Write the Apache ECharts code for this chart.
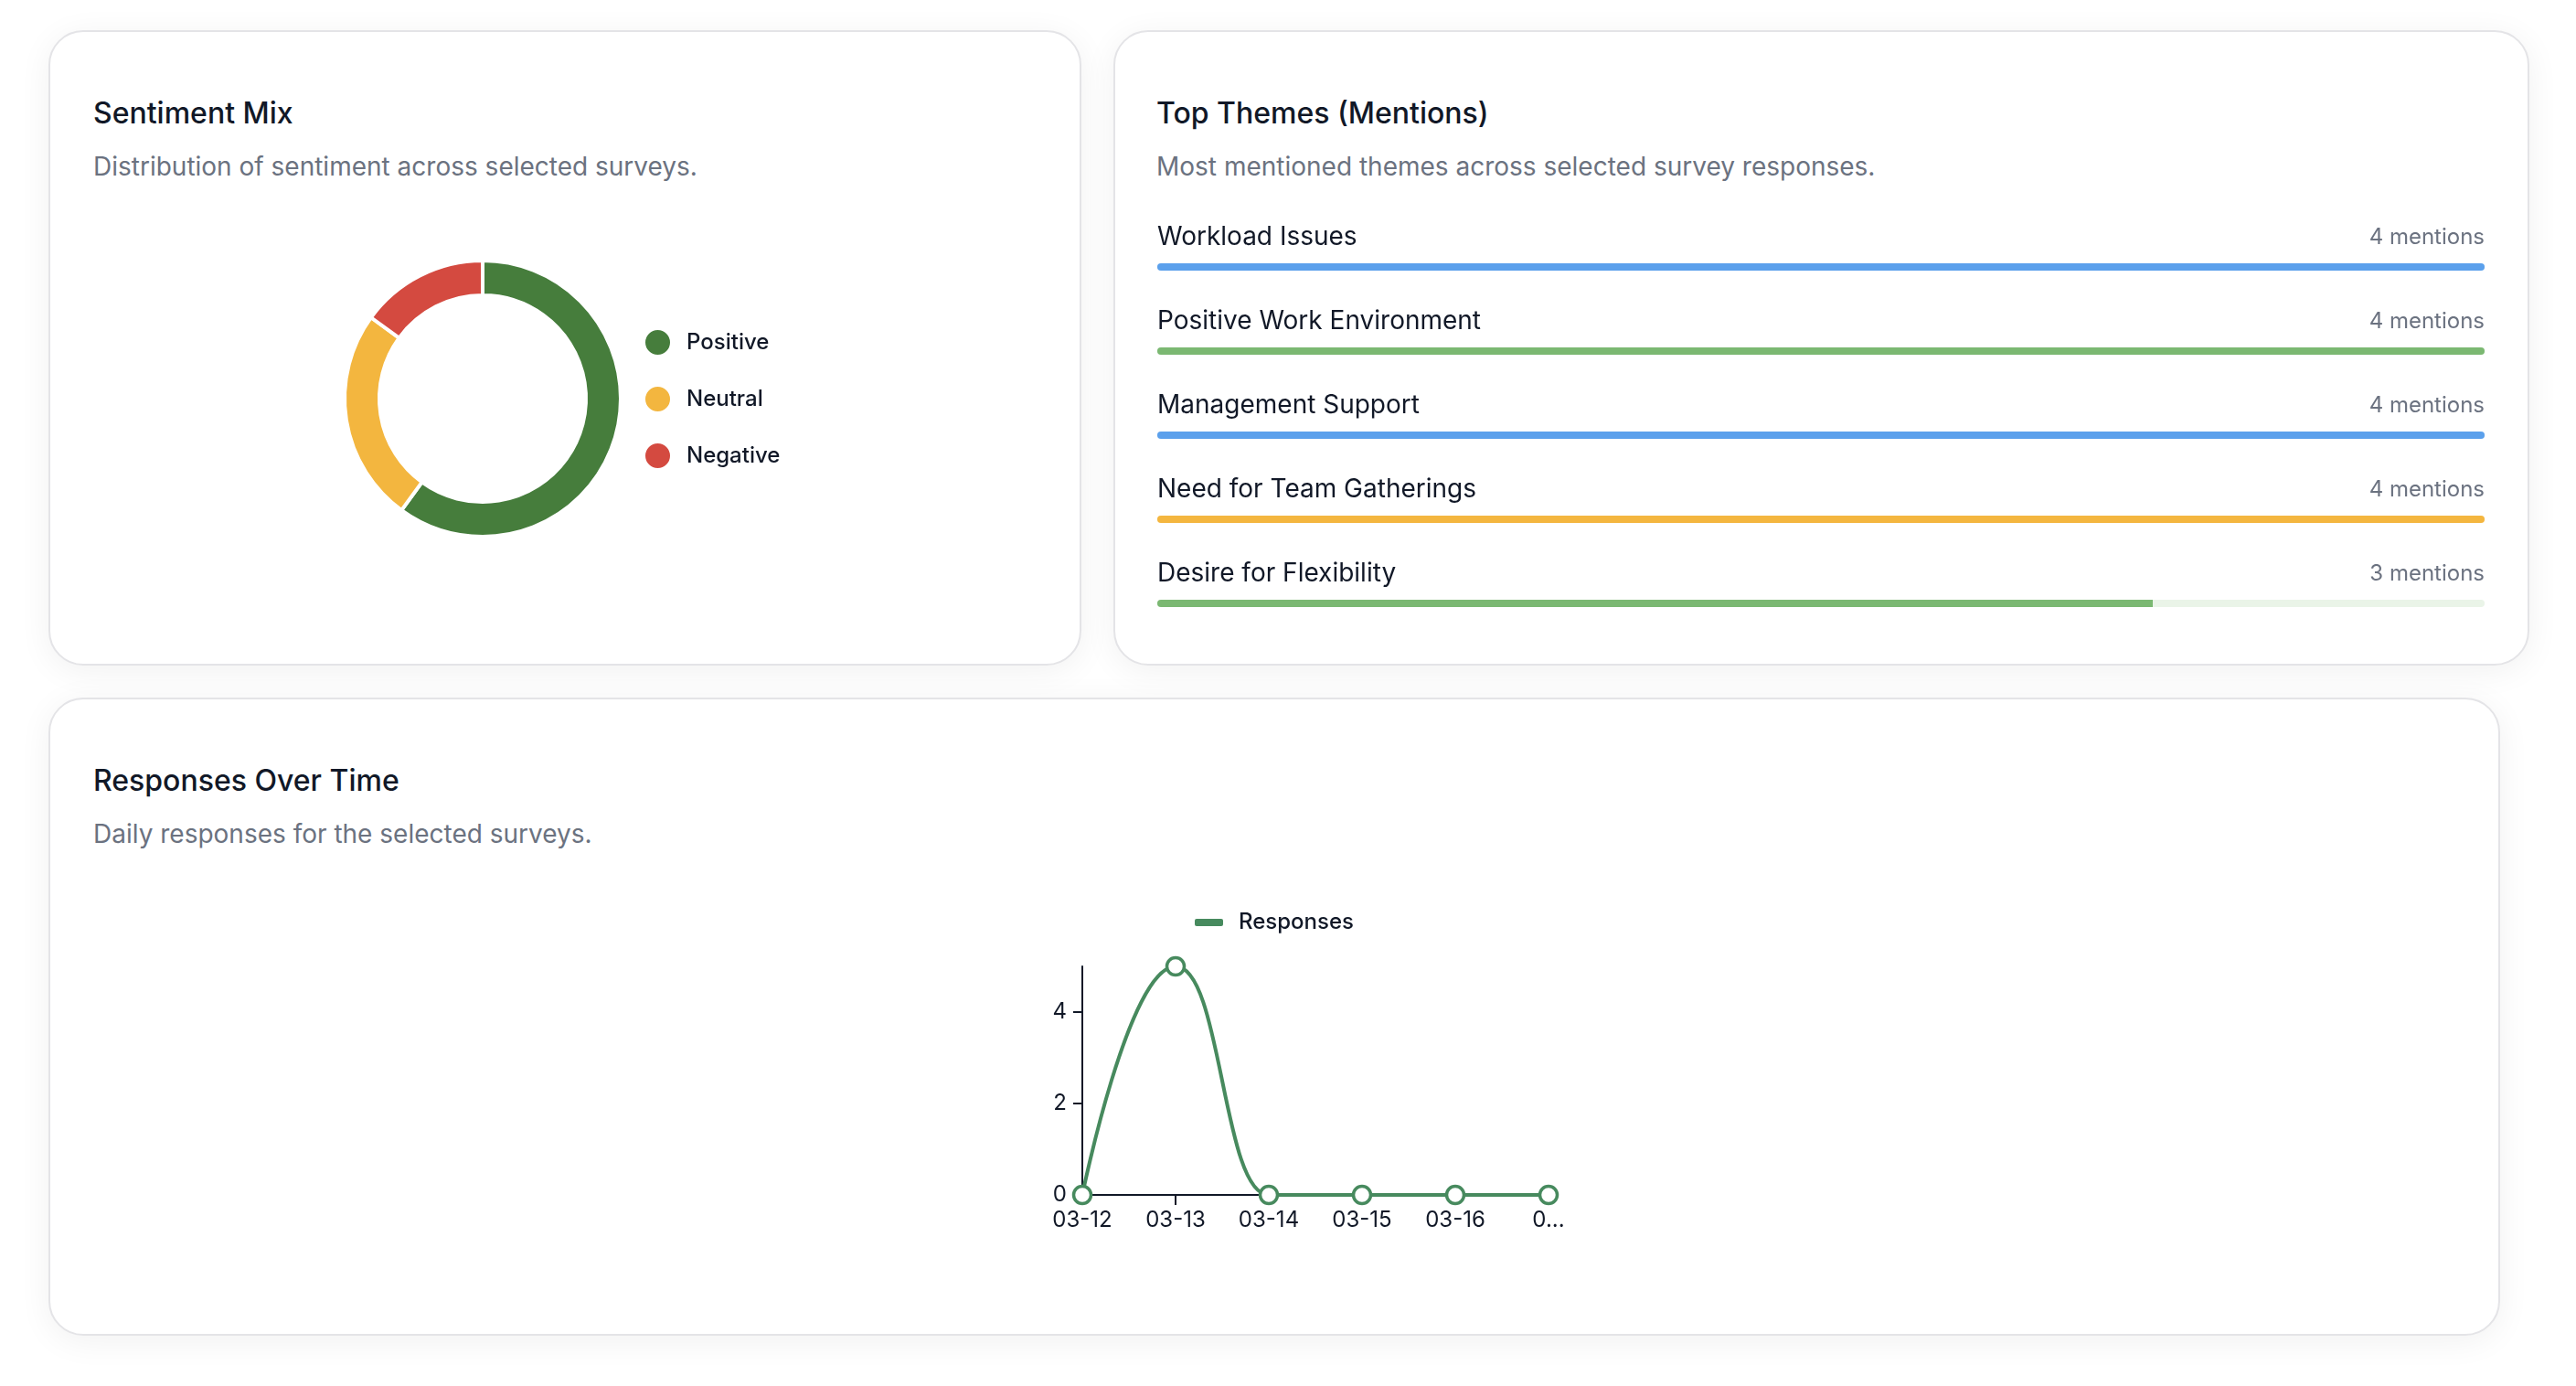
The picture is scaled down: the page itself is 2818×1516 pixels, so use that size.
<!DOCTYPE html>
<html>
<head>
<meta charset="utf-8">
<script src="https://cdn.jsdelivr.net/npm/echarts@6/dist/echarts.min.js"></script>
<style>
  html, body { margin: 0; padding: 0; background: #fff; }
  body { width: 2818px; height: 1516px; position: relative; overflow: hidden; font-family: Inter, "Noto Sans", sans-serif; }
  .card {
    position: absolute; box-sizing: border-box; background: #fff;
    border: 2px solid #e4e4e7; border-radius: 38px;
    box-shadow: 0 6px 36px rgba(0, 0, 0, 0.06);
  }
  .title { position: absolute; font-size: 32px; line-height: 40px; font-weight: 500; color: #111827; white-space: nowrap; }
  .sub { position: absolute; font-size: 28px; line-height: 36px; color: #6b7280; white-space: nowrap; }
  #chart { position: absolute; left: 0; top: 0; width: 2818px; height: 1516px; }
</style>
</head>
<body>
<div class="card" style="left:53px;top:33px;width:1130px;height:695px"></div>
<div class="card" style="left:1218px;top:33px;width:1549px;height:695px"></div>
<div class="card" style="left:53px;top:763px;width:2682px;height:698px"></div>

<div class="title" style="left:102px;top:104px">Sentiment Mix</div>
<div class="sub" style="left:102px;top:164px">Distribution of sentiment across selected surveys.</div>
<div class="title" style="left:1265px;top:104px">Top Themes (Mentions)</div>
<div class="sub" style="left:1265px;top:164px">Most mentioned themes across selected survey responses.</div>
<div class="title" style="left:102px;top:834px">Responses Over Time</div>
<div class="sub" style="left:102px;top:894px">Daily responses for the selected surveys.</div>

<div id="chart"></div>
<script>
// sentiment donut
const sentimentNames = ['Positive', 'Neutral', 'Negative'];
const sentimentCounts = [12, 5, 3];
const sentimentColors = ['#467d3c', '#f3b63f', '#d44a40'];

// top themes
const themeNames = ['Workload Issues', 'Positive Work Environment', 'Management Support', 'Need for Team Gatherings', 'Desire for Flexibility'];
const themeMentions = [4, 4, 4, 4, 3];
const themeColors = ['#5ba0ec', '#7bb872', '#5ba0ec', '#f4b63f', '#7bb872'];
const themeTrackColors = ['#e6f0fc', '#eaf4e8', '#e6f0fc', '#fdf3de', '#eaf4e8'];

// responses over time
const dayLabels = ['03-12', '03-13', '03-14', '03-15', '03-16', '03-17'];
const dailyResponses = [0, 5, 0, 0, 0, 0];
const responseTicks = [0, 2, 4];

const lineGreen = '#478a5e';
const ink = '#111827';
const maxMentions = Math.max(...themeMentions);

const chart = echarts.init(document.getElementById('chart'));

chart.setOption({
  animation: false,
  textStyle: { fontFamily: 'Inter' },
  legend: [
    {
      data: sentimentNames,
      orient: 'vertical',
      left: 704, top: 359,
      icon: 'circle',
      itemWidth: 29, itemHeight: 29, itemGap: 31,
      padding: 0,
      selectedMode: false,
      textStyle: { fontSize: 24, fontWeight: 500, color: ink, lineHeight: 29, padding: [0, 0, 0, 12] }
    },
    {
      data: [{ name: 'Responses', itemStyle: { color: lineGreen, borderWidth: 0 } }],
      left: 1307, top: 995,
      icon: 'roundRect',
      itemWidth: 31, itemHeight: 8,
      padding: 0,
      selectedMode: false,
      textStyle: { fontSize: 24, fontWeight: 500, color: ink, lineHeight: 28, padding: [0, 0, 0, 12] }
    }
  ],
  grid: [
    { left: 1266, top: 246, width: 1452, height: 460 },
    { left: 1184, top: 1057, width: 510, height: 250 }
  ],
  xAxis: [
    { gridIndex: 0, type: 'value', min: 0, max: maxMentions, show: false },
    {
      gridIndex: 1, type: 'category', data: dayLabels, boundaryGap: false,
      axisLine: { show: true, lineStyle: { color: ink, width: 2 } },
      axisTick: { show: true, length: 11, lineStyle: { color: ink, width: 2 } },
      axisLabel: {
        fontSize: 24, color: ink, margin: 16,
        formatter: (v, i) => i === dayLabels.length - 1 ? v.charAt(0) + '...' : v
      }
    }
  ],
  yAxis: [
    { gridIndex: 0, type: 'category', data: themeNames, inverse: true, show: false },
    {
      gridIndex: 1, type: 'value', min: 0, max: Math.max(...dailyResponses),
      splitLine: { show: false },
      axisLine: { show: true, lineStyle: { color: ink, width: 2 } },
      axisTick: { show: true, length: 10, customValues: responseTicks, lineStyle: { color: ink, width: 2 } },
      axisLabel: { fontSize: 24, color: ink, margin: 17, customValues: responseTicks }
    }
  ],
  series: [
    {
      type: 'pie',
      center: [528, 436],
      radius: [113, 151],
      startAngle: 90,
      silent: true,
      label: { show: false },
      labelLine: { show: false },
      itemStyle: { borderColor: '#fff', borderWidth: 4 },
      data: sentimentNames.map((n, i) => ({ name: n, value: sentimentCounts[i], itemStyle: { color: sentimentColors[i] } }))
    },
    {
      // track behind each theme bar, carries the count label on the right
      type: 'bar',
      xAxisIndex: 0, yAxisIndex: 0,
      barWidth: 8, barGap: '-100%',
      silent: true,
      data: themeNames.map((n, i) => ({
        value: maxMentions,
        itemStyle: { color: themeTrackColors[i], borderRadius: 4 }
      })),
      label: {
        show: true,
        position: ['100%', -28],
        align: 'right', verticalAlign: 'middle',
        fontSize: 24, color: '#6b7280',
        formatter: p => themeMentions[p.dataIndex] + ' mentions'
      }
    },
    {
      type: 'bar',
      xAxisIndex: 0, yAxisIndex: 0,
      barWidth: 8, barGap: '-100%',
      silent: true,
      data: themeMentions.map((v, i) => ({
        value: v,
        itemStyle: { color: themeColors[i], borderRadius: v >= maxMentions ? 4 : [4, 0, 0, 4] }
      })),
      label: {
        show: true,
        position: [0, -28],
        align: 'left', verticalAlign: 'middle',
        fontSize: 28, color: ink,
        formatter: '{b}'
      }
    },
    {
      name: 'Responses',
      type: 'line',
      xAxisIndex: 1, yAxisIndex: 1,
      data: dailyResponses,
      smooth: true,
      smoothMonotone: 'x',
      symbol: 'circle',
      symbolSize: 19,
      silent: true,
      lineStyle: { color: lineGreen, width: 4 },
      itemStyle: { color: '#fff', borderColor: lineGreen, borderWidth: 3.5 },
      z: 5
    }
  ]
});
</script>
</body>
</html>
